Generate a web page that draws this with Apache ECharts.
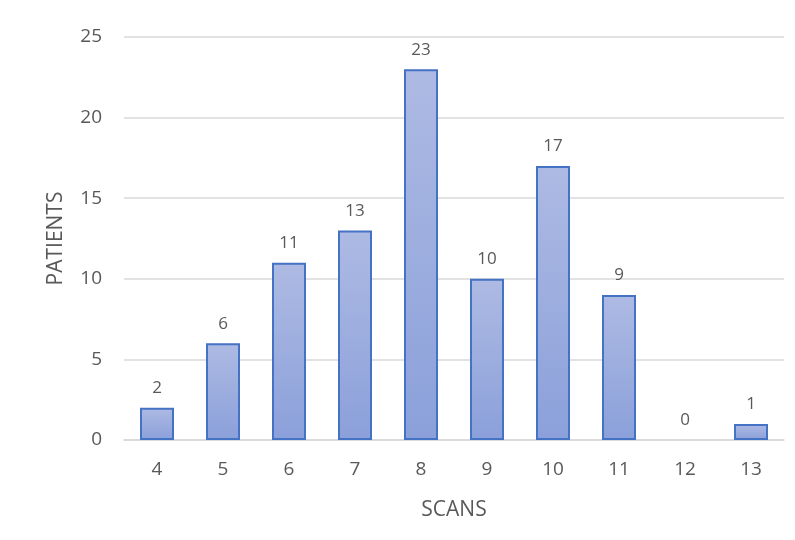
<!DOCTYPE html>
<html>
<head>
<meta charset="utf-8">
<script src="https://cdn.jsdelivr.net/npm/echarts@6/dist/echarts.min.js"></script>
<style>
  html, body { margin: 0; padding: 0; background: #fff; }
  #chart { width: 795px; height: 540px; }
</style>
</head>
<body>
<div id="chart"></div>
<script>
// Number of scans per patient (x) and the count of patients for each (y)
const scans = ['4', '5', '6', '7', '8', '9', '10', '11', '12', '13'];
const patients = [2, 6, 11, 13, 23, 10, 17, 9, 0, 1];
const yTicks = { min: 0, max: 25, interval: 5 };

const textColor = '#595959';
const fontFamily = '"Open Sans", "Liberation Sans", sans-serif';

// Empty categories keep their label but draw no outline
const barData = patients.map(v => v === 0 ? { value: v, itemStyle: { borderWidth: 0 } } : v);

const chart = echarts.init(document.getElementById('chart'));
chart.setOption({
  backgroundColor: '#ffffff',
  animation: false,
  grid: { left: 124, right: 11, top: 37, bottom: 100 },
  xAxis: {
    type: 'category',
    data: scans,
    name: 'SCANS',
    nameLocation: 'middle',
    nameGap: 60,
    nameTextStyle: { color: textColor, fontSize: 21, fontFamily },
    axisLine: { lineStyle: { color: '#d9d9d9', width: 1.5 } },
    axisTick: { show: false },
    axisLabel: { color: textColor, fontSize: 19, fontFamily, margin: 20 }
  },
  yAxis: {
    type: 'value',
    min: yTicks.min,
    max: yTicks.max,
    interval: yTicks.interval,
    name: 'PATIENTS',
    nameLocation: 'middle',
    nameGap: 57,
    nameTextStyle: { color: textColor, fontSize: 21, fontFamily },
    axisLine: { show: false },
    axisTick: { show: false },
    axisLabel: { color: textColor, fontSize: 19, fontFamily, margin: 22 },
    splitLine: { lineStyle: { color: '#d9d9d9', width: 1.5 } }
  },
  series: [{
    type: 'bar',
    data: barData,
    barWidth: 34,
    itemStyle: {
      borderColor: '#4472c4',
      borderWidth: 2,
      color: new echarts.graphic.LinearGradient(0, 0, 0, 1, [
        { offset: 0, color: '#adbae3' },
        { offset: 1, color: '#8ba0da' }
      ])
    },
    label: {
      show: true,
      position: 'top',
      distance: 11,
      color: textColor,
      fontSize: 17,
      fontFamily
    }
  }]
});
</script>
</body>
</html>
